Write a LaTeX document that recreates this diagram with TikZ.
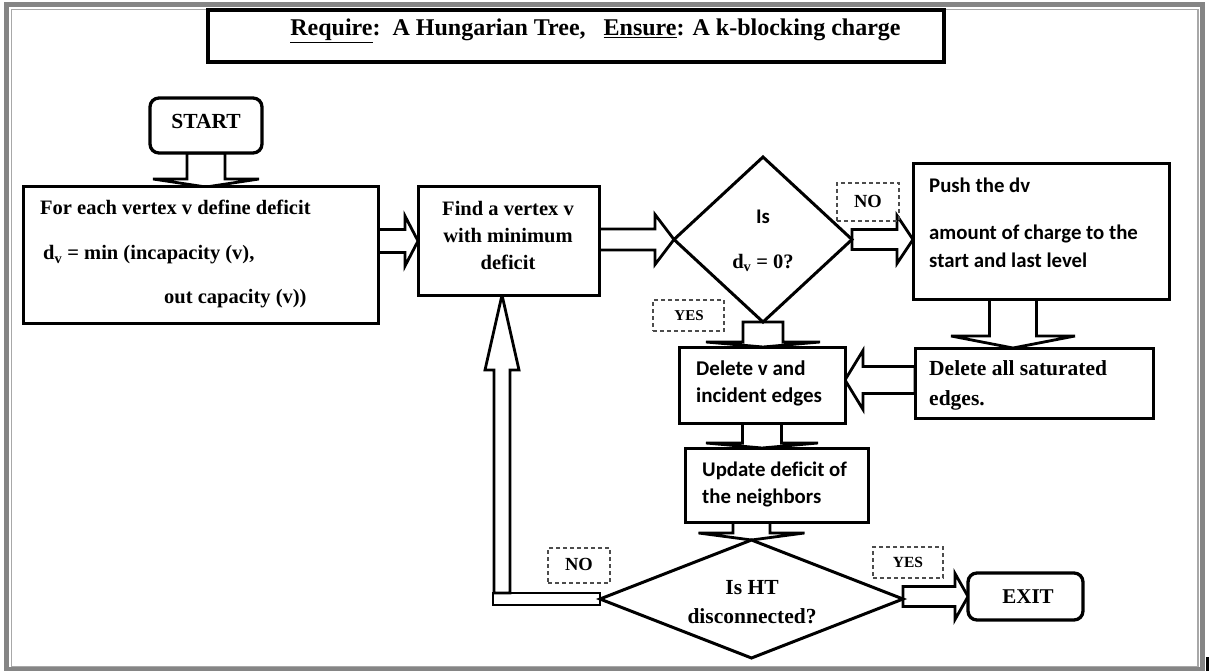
\documentclass[tikz,border=0pt]{standalone}
\usepackage{fontspec}
\setmainfont{Liberation Serif}
\newfontfamily\calfont[Ligatures=NoCommon]{Carlito}
\usetikzlibrary{shapes.geometric,calc}
\pgfdeclarelayer{bg}
\pgfdeclarelayer{paper}
\pgfsetlayers{paper,bg,main}

\definecolor{framegray}{HTML}{858585}
\definecolor{framelight}{HTML}{A8A8A8}

% hollow block arrows: #1 tail, #2 tip, #3 shaft half width, #4 head half width, #5 head length
\newcommand\blkright[5]{\draw[blk] let \p1=(#1), \p2=(#2) in
  ({\x1},{\y2+#3pt}) -- ({\x2-#5pt},{\y2+#3pt}) -- ({\x2-#5pt},{\y2+#4pt}) -- (\p2)
  -- ({\x2-#5pt},{\y2-#4pt}) -- ({\x2-#5pt},{\y2-#3pt}) -- ({\x1},{\y2-#3pt}) -- cycle;}
\newcommand\blkleft[5]{\draw[blk] let \p1=(#1), \p2=(#2) in
  ({\x1},{\y2+#3pt}) -- ({\x2+#5pt},{\y2+#3pt}) -- ({\x2+#5pt},{\y2+#4pt}) -- (\p2)
  -- ({\x2+#5pt},{\y2-#4pt}) -- ({\x2+#5pt},{\y2-#3pt}) -- ({\x1},{\y2-#3pt}) -- cycle;}
\newcommand\blkdown[5]{\draw[blk] let \p1=(#1), \p2=(#2) in
  ({\x2-#3pt},{\y1}) -- ({\x2-#3pt},{\y2+#5pt}) -- ({\x2-#4pt},{\y2+#5pt}) -- (\p2)
  -- ({\x2+#4pt},{\y2+#5pt}) -- ({\x2+#3pt},{\y2+#5pt}) -- ({\x2+#3pt},{\y1}) -- cycle;}
\newcommand\blkup[5]{\draw[blk] let \p1=(#1), \p2=(#2) in
  ({\x2-#3pt},{\y1}) -- ({\x2-#3pt},{\y2-#5pt}) -- ({\x2-#4pt},{\y2-#5pt}) -- (\p2)
  -- ({\x2+#4pt},{\y2-#5pt}) -- ({\x2+#3pt},{\y2-#5pt}) -- ({\x2+#3pt},{\y1}) -- cycle;}

\begin{document}
\begin{tikzpicture}[x=1pt,y=-1pt,
  box/.style={draw=black, line width=3pt, fill=white, inner sep=0pt, outer sep=0pt},
  term/.style={box, line width=3.3pt, rounded corners=9pt},
  decision/.style={draw=black, line width=3pt, fill=white, diamond, inner sep=0pt, outer sep=0pt},
  blk/.style={draw=black, line width=2.8pt, fill=white, line join=miter},
  tag/.style={draw=black!70, dash pattern=on 4pt off 3pt, line width=1.1pt, inner sep=0pt, outer sep=0pt},
  sertxt/.style={font=\fontsize{20.5}{27}\selectfont\bfseries, inner sep=0pt},
  caltxt/.style={font=\calfont\fontsize{20.8}{28}\selectfont\bfseries, inner sep=0pt},
  smalltxt/.style={font=\fontsize{15}{17}\selectfont\bfseries, inner sep=0pt},
]
\useasboundingbox (0,0) rectangle (1209,671);
\begin{pgfonlayer}{paper}
  \fill[white] (0,0) rectangle (1209,671);
\end{pgfonlayer}

% page frame
\draw[line width=5pt, framegray] (6.5,4.5) rectangle (1202.5,669.5);
\draw[line width=1.5pt, framelight] (11.5,9.5) rectangle (1198,666.5);
\fill[black] (1206,657) rectangle (1209,671);

% header
\node[box, line width=3.4pt, minimum width=736, minimum height=52] (head) at (576,36) {};
\node[font=\fontsize{24}{27}\selectfont\bfseries, inner sep=0pt] (headtext) at (595.5,31)
  {\underline{Require}:\ \ A Hungarian Tree,\ \ \ \underline{Ensure}: A k-blocking charge};

% flow chart boxes
\node[term, minimum width=112, minimum height=55] (start) at (206,125.5) {};
\node[sertxt, font=\fontsize{21.5}{24}\selectfont\bfseries] (starttext) at (206,121) {START};

\node[box, minimum width=355, minimum height=136] (box1) at (200.5,255) {};
\node[sertxt, anchor=west] (b1a) at (40,207) {For each vertex v define deficit};
\node[sertxt, anchor=west] (b1b) at (43,255) {d\textsubscript{v} = min (incapacity (v),};
\node[sertxt, anchor=west] (b1c) at (164,299) {out capacity (v))};

\node[box, minimum width=181, minimum height=108] (box2) at (508.5,241) {};
\node[sertxt, align=center] (b2) at (508,235) {Find a vertex v\\with minimum\\deficit};

\node[decision, minimum width=178, minimum height=165] (d1) at (763,239.5) {};
\node[caltxt] (d1a) at (763,217) {Is};
\node[sertxt] (d1b) at (763,263) {d\textsubscript{v} = 0?};

\node[box, minimum width=256, minimum height=135] (push) at (1041,231.5) {};
\node[caltxt, anchor=west] (pa) at (929,185) {Push the dv};
\node[caltxt, anchor=west, align=left] (pb) at (929,246) {amount of charge to the\\start and last level};

\node[box, minimum width=238, minimum height=70] (delall) at (1034,383) {};
\node[sertxt, anchor=west, align=left, font=\fontsize{21.5}{30}\selectfont\bfseries] (da) at (929,385) {Delete all saturated\\edges.};

\node[box, minimum width=166, minimum height=76] (delv) at (762,385) {};
\node[caltxt, anchor=west, align=left, font=\calfont\fontsize{21}{27}\selectfont\bfseries] (dv) at (696,383.5) {Delete v and\\incident edges};

\node[box, minimum width=183, minimum height=74] (update) at (776.5,485) {};
\node[caltxt, anchor=west, align=left, font=\calfont\fontsize{20.8}{27}\selectfont\bfseries] (up) at (702,484.5) {Update deficit of\\the neighbors};

\node[decision, minimum width=303, minimum height=118] (d2) at (751.5,599) {};
\node[sertxt, align=center, font=\fontsize{21.5}{29}\selectfont\bfseries] (d2t) at (752,602.5) {Is HT\\disconnected?};

\node[term, minimum width=115, minimum height=47] (exit) at (1025.5,596.5) {};
\node[sertxt, font=\fontsize{21}{24}\selectfont\bfseries] (exittext) at (1028,597) {EXIT};

% branch labels
\node[tag, minimum width=62, minimum height=38] (no1) at (868,202) {};
\node[sertxt, font=\fontsize{18.5}{20}\selectfont\bfseries] (no1t) at (868,201) {NO};
\node[tag, minimum width=71, minimum height=31] (yes1) at (688.5,315.5) {};
\node[smalltxt] (yes1t) at (689,316) {YES};
\node[tag, minimum width=62, minimum height=35] (no2) at (579,565.5) {};
\node[sertxt, font=\fontsize{18.5}{20}\selectfont\bfseries] (no2t) at (579,564) {NO};
\node[tag, minimum width=70, minimum height=31] (yes2) at (908,562.5) {};
\node[smalltxt, font=\fontsize{15.5}{17}\selectfont\bfseries] (yes2t) at (908,562) {YES};

% helper points for the connectors
\coordinate (pushout) at ([xshift=-28pt]push.south);
\coordinate (delvin) at ([yshift=5pt]delv.east);
\coordinate (loop) at ($(d2.west)+(-107,0)$);
\coordinate (looptop) at ([xshift=9pt,yshift=6pt]loop);

\begin{pgfonlayer}{bg}
  \blkdown{start.south}{start.south |- box1.north}{19}{53}{8}
  \blkright{box1.east |- box2.west}{box2.west}{11.5}{25}{13}
  \blkright{box2.east}{d1.west}{10.5}{25}{19}
  \blkright{d1.east}{push.west |- d1.east}{10}{24}{16}
  \blkdown{pushout}{pushout |- delall.north}{23.5}{62}{12}
  \blkleft{delall.west |- delvin}{delvin}{13.5}{29.5}{18}
  \blkdown{d1.south}{d1.south |- delv.north}{20}{57}{5}
  \blkdown{delv.south}{delv.south |- update.north}{19.5}{56}{5}
  \blkdown{d2.north |- update.south}{d2.north}{18.5}{53}{7}
  \blkright{d2.east |- exit.west}{exit.west}{10}{23}{13}
  % loop back from the second decision
  \draw[blk] ([yshift=6pt]loop) rectangle ([yshift=-6pt]d2.west);
  \blkup{looptop}{looptop |- box2.south}{8}{17}{75}
\end{pgfonlayer}
\end{tikzpicture}
\end{document}
